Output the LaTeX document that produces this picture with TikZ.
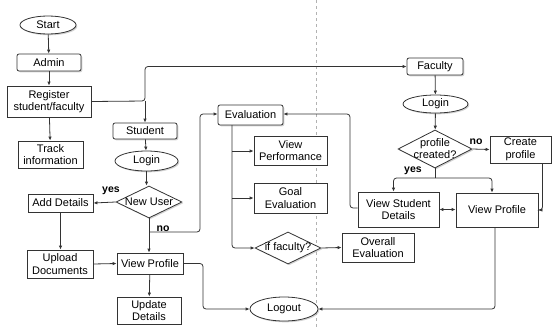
\documentclass[tikz,border=0pt]{standalone}
\usepackage{fontspec}
\setmainfont{Liberation Sans}
\usetikzlibrary{shapes.geometric,shadows,arrows.meta}
\begin{document}
\begin{tikzpicture}[x=1pt,y=-1pt,
  base/.style={draw=black!80, line width=0.8pt, fill=white, font=\fontsize{11}{12.5}\selectfont, align=center, inner sep=0pt,
    drop shadow={shadow xshift=1.3pt, shadow yshift=-1.3pt, fill=black!35}},
  box/.style={base, rectangle},
  rbox/.style={base, rectangle, rounded corners=2pt},
  oval/.style={base, ellipse},
  dia/.style={base, diamond},
  conn/.style={draw=black!80, line width=0.8pt, -{Latex[length=4pt,width=3.5pt]}, rounded corners=3pt},
  plain/.style={draw=black!80, line width=0.8pt, rounded corners=3pt},
  lab/.style={font=\fontsize{10.5}{12}\selectfont\bfseries, inner sep=0pt}
]
\useasboundingbox (0,0) rectangle (552,327);
\draw[dashed, black!30, line width=0.5pt] (316,0) -- (316,327);

% left column
\node[oval, minimum width=56, minimum height=18] (start) at (48,25) {Start};
\node[rbox, minimum width=64, minimum height=17] (admin) at (49,62.5) {Admin};
\node[box, minimum width=84, minimum height=31] (reg) at (49,101.5) {Register\\student/faculty};
\node[box, minimum width=65, minimum height=27] (track) at (50.5,154.5) {Track\\information};
\node[rbox, minimum width=64, minimum height=16] (stu) at (145,131) {Student};
\node[oval, minimum width=63, minimum height=20] (login1) at (146.5,161) {Login};
\node[dia, minimum width=66, minimum height=32, label={[font=\fontsize{11}{12.5}\selectfont]center:New User}] (newu) at (149,202) {};
\node[box, minimum width=65, minimum height=18] (add) at (60.5,203) {Add Details};
\node[box, minimum width=66, minimum height=28] (upl) at (60,264) {Upload\\Documents};
\node[box, minimum width=66, minimum height=21] (vps) at (150,263.5) {View Profile};
\node[box, minimum width=64, minimum height=27] (upd) at (149,310.5) {Update\\Details};

% middle
\node[rbox, minimum width=65, minimum height=20] (eval) at (250.5,115) {Evaluation};
\node[box, minimum width=73, minimum height=29] (vperf) at (290.5,150.5) {View\\Performance};
\node[box, minimum width=73, minimum height=30] (goal) at (290.5,198) {Goal\\Evaluation};
\node[dia, minimum width=66, minimum height=32, label={[font=\fontsize{11}{12.5}\selectfont]center:if faculty?}] (iff) at (288,248) {};
\node[box, minimum width=72, minimum height=29] (over) at (378,247.5) {Overall\\Evaluation};
\node[oval, minimum width=68, minimum height=24] (logout) at (284,309) {Logout};

% right
\node[rbox, minimum width=56, minimum height=17] (fac) at (435,66.5) {Faculty};
\node[oval, minimum width=65, minimum height=18] (login2) at (435.5,104) {Login};
\node[dia, minimum width=74, minimum height=38, label={[font=\fontsize{11}{12}\selectfont, align=center]center:profile\\created?}] (pc) at (435,149) {};
\node[box, minimum width=61, minimum height=27] (create) at (520.5,149.5) {Create\\profile};
\node[box, minimum width=81, minimum height=35] (vsd) at (398.5,209.5) {View Student\\Details};
\node[box, minimum width=82, minimum height=34] (vpf) at (497,210) {View Profile};

% connectors left
\draw[conn] (start) -- (admin);
\draw[conn] (admin) -- (reg);
\draw[conn] (reg) -- (track);
\coordinate (j) at (145,101);
\draw[conn] (reg.east) -- (j) |- (fac.west);
\draw[conn] (j) -- (stu.north);
\draw[conn] (stu) -- (login1);
\draw[conn] (login1.south) -- (login1.south |- newu.north);
\draw[conn] (newu.west) -- (add.east);
\node[lab] (yes1) at (111,191) {yes};
\draw[conn] (add.south) -- (add.south |- upl.north);
\draw[conn] (upl.east) -- (vps.west);
\draw[conn] (newu.south) -- (newu.south |- vps.north);
\node[lab] (no1) at (163,229) {no};
\coordinate (nb) at (149,232);
\draw[conn] (nb) -- (200,232) -- (200,114) -- (eval.west |- 0,114);
\draw[conn] (vps) -- (upd);
\draw[conn] (vps.east) -- (203,263.5) |- (logout.west);

% middle
\coordinate (e0) at (232,125);
\draw[conn] (e0) |- (iff.west);
\draw[conn] (232,151) -- (vperf.west |- 0,151);
\draw[conn] (232,198) -- (goal.west);
\draw[conn] (iff.east) -- (over.west);

% right
\draw[conn] (fac) -- (login2);
\draw[conn] (login2) -- (pc);
\draw[conn] (pc.east) -- (create.west);
\node[lab] (no2) at (476,142) {no};
\draw[plain] (pc.south) -- (435,178);
\draw[conn] (435,178) -| ([xshift=-5pt]vsd.north);
\draw[conn] (435,178) -| ([xshift=-5pt]vpf.north);
\node[lab] (yes2) at (413,171) {yes};
\draw[conn] ([xshift=22pt]create.south) |- (vpf.east);
\draw[draw=black!80, line width=0.8pt, {Latex[length=4pt,width=3.5pt]}-{Latex[length=4pt,width=3.5pt]}] (vsd.east) -- (vpf.west |- vsd.east);
\draw[conn] (vsd.west |- 0,208) -- (350,208) -- (350,114) -- (eval.east |- 0,114);
\draw[conn] ([xshift=-2pt]vpf.south) |- (logout.east);
\end{tikzpicture}
\end{document}
